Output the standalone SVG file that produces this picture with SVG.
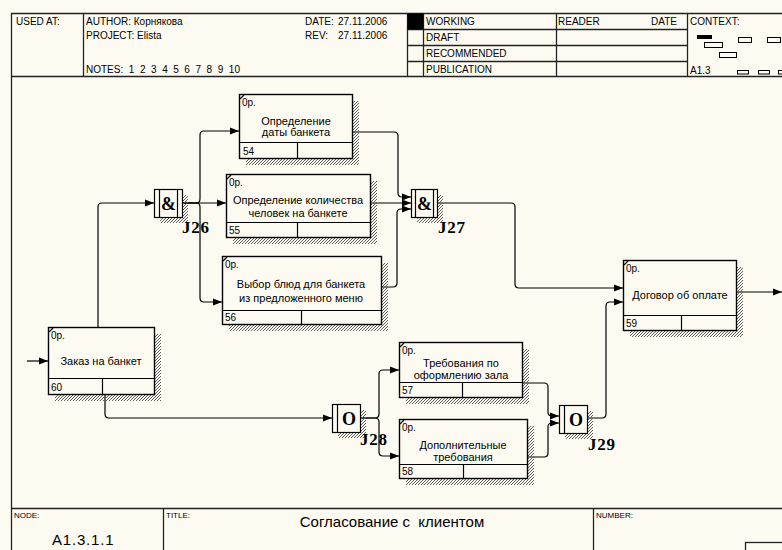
<svg xmlns="http://www.w3.org/2000/svg" width="782" height="550" viewBox="0 0 782 550">
  <defs>
    <pattern id="hatch" width="3" height="3" patternUnits="userSpaceOnUse">
      <rect x="0" y="2" width="1" height="1" fill="#5f5f5f"/>
      <rect x="1" y="1" width="1" height="1" fill="#5f5f5f"/>
      <rect x="2" y="0" width="1" height="1" fill="#5f5f5f"/>
    </pattern>
    <marker id="arr" markerUnits="userSpaceOnUse" markerWidth="10" markerHeight="8" refX="9" refY="4" orient="auto">
      <path d="M0,0.5 L9,4 L0,7.5 Z" fill="#000"/>
    </marker>
    <style>
      .frame { stroke: #222; stroke-width: 1.3; fill: none; }
      .hdr { font-family: "Liberation Sans", Arial, sans-serif; font-size: 10px; fill: #000; }
      .tiny { font-family: "Liberation Sans", Arial, sans-serif; font-size: 8px; fill: #000; }
      .box { fill: #fdfbf1; stroke: #000; stroke-width: 1.4; }
      .shadow { fill: url(#hatch); }
      .div { stroke: #000; stroke-width: 1.2; fill: none; }
      .lbl { font-family: "Liberation Sans", Arial, sans-serif; font-size: 11px; fill: #000; text-anchor: middle; }
      .small { font-family: "Liberation Sans", Arial, sans-serif; font-size: 10px; fill: #000; }
      .jbox { fill: #fdfbf1; stroke: #000; stroke-width: 1.2; }
      .jsym { font-family: "Liberation Serif", "Times New Roman", serif; font-size: 18px; font-weight: bold; fill: #000; text-anchor: middle; }
      .jlbl { font-family: "Liberation Serif", "Times New Roman", serif; font-size: 17px; font-weight: bold; fill: #000; letter-spacing: 0.8px; }
      .conn path { fill: none; stroke: #000; stroke-width: 1.2; }
      .ctx { fill: none; stroke: #000; stroke-width: 1; }
    </style>
  </defs>

  <rect x="0" y="0" width="782" height="550" fill="#fdfbf1"/>

  <!-- header block -->
  <g id="header">
    <line x1="11.5" y1="13" x2="11.5" y2="550" class="frame"/>
    <line x1="11" y1="13.5" x2="782" y2="13.5" class="frame"/>
    <line x1="11" y1="76.5" x2="782" y2="76.5" class="frame"/>
    <line x1="83.5" y1="13" x2="83.5" y2="76" class="frame"/>
    <line x1="407.5" y1="13" x2="407.5" y2="76" class="frame"/>
    <line x1="423.5" y1="13" x2="423.5" y2="76" class="frame"/>
    <line x1="556.5" y1="13" x2="556.5" y2="76" class="frame"/>
    <line x1="687.5" y1="13" x2="687.5" y2="76" class="frame"/>
    <line x1="407" y1="29.5" x2="687" y2="29.5" class="frame"/>
    <line x1="407" y1="45.5" x2="687" y2="45.5" class="frame"/>
    <line x1="407" y1="61.5" x2="687" y2="61.5" class="frame"/>
    <rect x="407.5" y="13.5" width="16" height="16" fill="#000"/>

    <text x="16" y="25" class="hdr">USED AT:</text>
    <text x="86" y="25" class="hdr">AUTHOR:  Корнякова</text>
    <text x="86" y="39" class="hdr">PROJECT:  Elista</text>
    <text x="86" y="73" class="hdr" xml:space="preserve">NOTES:  1  2  3  4  5  6  7  8  9  10</text>
    <text x="305" y="25" class="hdr">DATE:</text>
    <text x="338" y="25" class="hdr">27.11.2006</text>
    <text x="305" y="39" class="hdr">REV:</text>
    <text x="338" y="39" class="hdr">27.11.2006</text>
    <text x="426" y="25" class="hdr">WORKING</text>
    <text x="426" y="41" class="hdr">DRAFT</text>
    <text x="426" y="57" class="hdr">RECOMMENDED</text>
    <text x="426" y="73" class="hdr">PUBLICATION</text>
    <text x="558" y="25" class="hdr">READER</text>
    <text x="651" y="25" class="hdr">DATE</text>
    <text x="690" y="25" class="hdr">CONTEXT:</text>
    <text x="690" y="74" class="hdr">A1.3</text>

    <!-- context thumbnail -->
    <rect x="697" y="35" width="15" height="4" fill="#000"/>
    <rect x="704.5" y="42.5" width="18" height="5" class="ctx"/>
    <rect x="738.5" y="37.5" width="13" height="5" class="ctx"/>
    <rect x="767.5" y="37.5" width="13" height="5" class="ctx"/>
    <rect x="719.5" y="52.5" width="17" height="5" class="ctx"/>
    <rect x="737.5" y="70.5" width="11" height="3.5" class="ctx"/>
    <rect x="758.5" y="70.5" width="11" height="3.5" class="ctx"/>
    <rect x="778.5" y="70.5" width="11" height="3.5" class="ctx"/>
  </g>

  <!-- footer block -->
  <g id="footer">
    <line x1="11" y1="508.5" x2="782" y2="508.5" class="frame"/>
    <line x1="163.5" y1="508" x2="163.5" y2="550" class="frame"/>
    <line x1="593.5" y1="508" x2="593.5" y2="550" class="frame"/>
    <text x="14" y="518" class="tiny">NODE:</text>
    <text x="166" y="518" class="tiny">TITLE:</text>
    <text x="596" y="518" class="tiny">NUMBER:</text>
    <text x="392" y="527" font-family="Liberation Sans, Arial, sans-serif" font-size="15" text-anchor="middle" xml:space="preserve">Согласование с  клиентом</text>
    <text x="52" y="545" font-family="Liberation Sans, Arial, sans-serif" font-size="15" letter-spacing="0.8">A1.3.1.1</text>
    <rect x="745.5" y="542.5" width="50" height="20" class="frame"/>
  </g>

  <!-- connectors -->
  <g id="connectors" class="conn">
    <path d="M27,361 H48" marker-end="url(#arr)"/>
    <path d="M98,327 V207 Q98,203 102,203 H154" marker-end="url(#arr)"/>
    <path d="M182,203 H196 Q200,203 200,199 V135 Q200,131 204,131 H239" marker-end="url(#arr)"/>
    <path d="M182,203 H226" marker-end="url(#arr)"/>
    <path d="M182,203 H196 Q200,203 200,207 V298 Q200,302 204,302 H222" marker-end="url(#arr)"/>
    <path d="M352,132 H394 Q398,132 398,136 V193 Q398,197 402,197 H411" marker-end="url(#arr)"/>
    <path d="M370,203 H411" marker-end="url(#arr)"/>
    <path d="M381,287 H393 Q397,287 397,283 V213 Q397,209 401,209 H411" marker-end="url(#arr)"/>
    <path d="M437,203 H511 Q515,203 515,207 V284 Q515,288 519,288 H623" marker-end="url(#arr)"/>
    <path d="M105,394 V414 Q105,418 109,418 H332" marker-end="url(#arr)"/>
    <path d="M360,418 H375 Q379,418 379,414 V374 Q379,370 383,370 H399" marker-end="url(#arr)"/>
    <path d="M360,418 H375 Q379,418 379,422 V452 Q379,456 383,456 H399" marker-end="url(#arr)"/>
    <path d="M522,383 H544 Q548,383 548,387 V412 Q548,416 552,416 H559" marker-end="url(#arr)"/>
    <path d="M527,457 H544 Q548,457 548,453 V427 Q548,423 552,423 H559" marker-end="url(#arr)"/>
    <path d="M587,418 H602 Q606,418 606,414 V306 Q606,302 610,302 H623" marker-end="url(#arr)"/>
    <path d="M736,292 H782" marker-end="url(#arr)"/>
  </g>

  <!-- activity boxes -->
  <g id="box54">
    <rect x="246" y="101" width="113" height="64" class="shadow"/>
    <rect x="239.5" y="94.5" width="113" height="64" class="box"/>
    <line x1="240" y1="99" x2="244" y2="95" class="div"/>
    <line x1="239.5" y1="142.5" x2="352.5" y2="142.5" class="div"/>
    <line x1="297.5" y1="142.5" x2="297.5" y2="158.5" class="div"/>
    <text x="242" y="106" class="small">0p.</text>
    <text x="296" y="124.5" class="lbl">Определение</text>
    <text x="296" y="136" class="lbl">даты банкета</text>
    <text x="243" y="155" class="small">54</text>
  </g>

  <g id="box55">
    <rect x="233" y="181" width="144" height="63" class="shadow"/>
    <rect x="226.5" y="174.5" width="144" height="63" class="box"/>
    <line x1="227" y1="179" x2="231" y2="175" class="div"/>
    <line x1="226.5" y1="222.5" x2="370.5" y2="222.5" class="div"/>
    <line x1="297.5" y1="222.5" x2="297.5" y2="237.5" class="div"/>
    <text x="229" y="186" class="small">0p.</text>
    <text x="298" y="204" class="lbl">Определение количества</text>
    <text x="298" y="216.5" class="lbl">человек на банкете</text>
    <text x="229" y="234" class="small">55</text>
  </g>

  <g id="box56">
    <rect x="229" y="263" width="159" height="68" class="shadow"/>
    <rect x="222.5" y="256.5" width="159" height="68" class="box"/>
    <line x1="223" y1="261" x2="227" y2="257" class="div"/>
    <line x1="222.5" y1="310.5" x2="381.5" y2="310.5" class="div"/>
    <line x1="301.5" y1="310.5" x2="301.5" y2="324.5" class="div"/>
    <text x="225" y="268" class="small">0p.</text>
    <text x="301" y="288" class="lbl">Выбор блюд для банкета</text>
    <text x="301" y="302" class="lbl">из предложенного меню</text>
    <text x="225" y="321" class="small">56</text>
  </g>

  <g id="box60">
    <rect x="55" y="334" width="106" height="67" class="shadow"/>
    <rect x="48.5" y="327.5" width="106" height="67" class="box"/>
    <line x1="49" y1="332" x2="53" y2="328" class="div"/>
    <line x1="48.5" y1="378.5" x2="154.5" y2="378.5" class="div"/>
    <line x1="102.5" y1="378.5" x2="102.5" y2="394.5" class="div"/>
    <text x="51" y="339" class="small">0p.</text>
    <text x="101" y="365" class="lbl">Заказ на банкет</text>
    <text x="51" y="391" class="small">60</text>
  </g>

  <g id="box57">
    <rect x="406" y="349" width="123" height="55" class="shadow"/>
    <rect x="399.5" y="342.5" width="123" height="55" class="box"/>
    <line x1="400" y1="347" x2="404" y2="343" class="div"/>
    <line x1="399.5" y1="382.5" x2="522.5" y2="382.5" class="div"/>
    <line x1="462.5" y1="382.5" x2="462.5" y2="397.5" class="div"/>
    <text x="402" y="354" class="small">0p.</text>
    <text x="461" y="367" class="lbl">Требования по</text>
    <text x="461" y="379" class="lbl">оформлению зала</text>
    <text x="402" y="394" class="small">57</text>
  </g>

  <g id="box58">
    <rect x="406" y="426" width="128" height="59" class="shadow"/>
    <rect x="399.5" y="419.5" width="128" height="59" class="box"/>
    <line x1="400" y1="424" x2="404" y2="420" class="div"/>
    <line x1="399.5" y1="464.5" x2="527.5" y2="464.5" class="div"/>
    <line x1="463.5" y1="464.5" x2="463.5" y2="478.5" class="div"/>
    <text x="402" y="431" class="small">0p.</text>
    <text x="463" y="449" class="lbl">Дополнительные</text>
    <text x="463" y="461" class="lbl">требования</text>
    <text x="402" y="475" class="small">58</text>
  </g>

  <g id="box59">
    <rect x="630" y="267" width="113" height="70" class="shadow"/>
    <rect x="623.5" y="260.5" width="113" height="70" class="box"/>
    <line x1="624" y1="265" x2="628" y2="261" class="div"/>
    <line x1="623.5" y1="315.5" x2="736.5" y2="315.5" class="div"/>
    <line x1="681.5" y1="315.5" x2="681.5" y2="330.5" class="div"/>
    <text x="626" y="272" class="small">0p.</text>
    <text x="680" y="299" class="lbl">Договор об оплате</text>
    <text x="626" y="327" class="small">59</text>
  </g>

  <!-- junctions -->
  <g id="J26">
    <rect x="160" y="195" width="28" height="28" class="shadow"/>
    <rect x="154.5" y="189.5" width="28" height="28" class="jbox"/>
    <line x1="159.5" y1="189.5" x2="159.5" y2="217.5" class="div"/>
    <line x1="177.5" y1="189.5" x2="177.5" y2="217.5" class="div"/>
    <text x="168.5" y="209.5" class="jsym">&amp;</text>
    <text x="182" y="233" class="jlbl">J26</text>
  </g>

  <g id="J27">
    <rect x="417" y="195" width="26" height="28" class="shadow"/>
    <rect x="411.5" y="189.5" width="26" height="28" class="jbox"/>
    <line x1="415.5" y1="189.5" x2="415.5" y2="217.5" class="div"/>
    <line x1="433.5" y1="189.5" x2="433.5" y2="217.5" class="div"/>
    <text x="424.5" y="209.5" class="jsym">&amp;</text>
    <text x="438" y="233" class="jlbl">J27</text>
  </g>

  <g id="J28">
    <rect x="338" y="410" width="28" height="28" class="shadow"/>
    <rect x="332.5" y="404.5" width="28" height="28" class="jbox"/>
    <line x1="337.5" y1="404.5" x2="337.5" y2="432.5" class="div"/>
    <text x="349" y="424.5" class="jsym">O</text>
    <text x="360" y="445" class="jlbl">J28</text>
  </g>

  <g id="J29">
    <rect x="565" y="411" width="28" height="28" class="shadow"/>
    <rect x="559.5" y="405.5" width="28" height="28" class="jbox"/>
    <line x1="564.5" y1="405.5" x2="564.5" y2="433.5" class="div"/>
    <text x="576" y="425.5" class="jsym">O</text>
    <text x="588" y="450" class="jlbl">J29</text>
  </g>
</svg>
